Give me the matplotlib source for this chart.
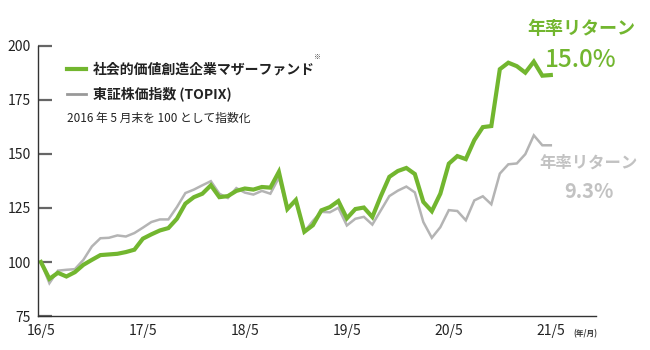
import numpy as np
import matplotlib.pyplot as plt
from matplotlib.lines import Line2D

plt.rcParams['font.family'] = ['Noto Sans CJK JP', 'DejaVu Sans']

# 月末基準価額（2016年5月末=100）、16/5〜21/5 の61か月
fund = [100, 92.2, 95, 93.3, 95.3, 98.7, 101, 103.2, 103.5, 103.8, 104.6, 105.7, 110.8,
        112.8, 114.6, 115.7, 120, 127, 130, 131.6, 135.5, 130, 130.5, 132.9, 134, 133.5,
        134.7, 134.4,
        141.7, 124.5, 128.7, 114, 117, 123.9, 125.4, 128.2,
        120.2, 124.5, 125.2, 120.8, 130.5, 139.4, 142.1, 143.5, 140.7, 127.8, 123.5, 131.6,
        145.5, 149, 147.6, 156.4, 162.4, 162.9, 189.2, 192.2, 190.6, 187.6, 192.7, 186.2, 186.5]
topix = [100, 90.2, 96, 96.4, 96.7, 101, 107.2, 111, 111.2, 112.3, 111.8, 113.4, 115.9,
         118.5, 119.7, 119.7, 125.4, 131.9, 133.5, 135.5, 137.4, 131.6, 129.6, 134.2, 132.1,
         131.2, 132.9, 131.6,
         139, 124.8, 128, 114, 119, 123.2, 123, 125.1,
         116.9, 120, 120.9, 117.3, 123.9, 130.5, 133, 134.9, 132.2, 118.5, 111.2, 116.1,
         124, 123.6, 119.3, 128.5, 130.4, 126.7, 140.9, 145.2, 145.6, 149.9, 158.6, 154, 154]
xlabels = ['16/5', '17/5', '18/5', '19/5', '20/5', '21/5']
yticks = [75, 100, 125, 150, 175, 200]
fund_name = '社会的価値創造企業マザーファンド'
topix_name = '東証株価指数 (TOPIX)'
fund_ret = '15.0%'
topix_ret = '9.3%'

green = '#72b62f'
gray = '#b4b4b4'

fig = plt.figure(figsize=(6.5, 3.5), dpi=100)
ax = fig.add_axes([0.0577, 0.097, 0.859, 0.772])

x = np.arange(len(fund))
ax.plot(x, topix, color=gray, lw=1.8, solid_joinstyle='miter')
ax.plot(x, fund, color=green, lw=3.0, solid_joinstyle='miter')

ax.set_xlim(-0.4, 65.3)
ax.set_ylim(75, 200)
ax.set_xticks(np.arange(0, 61, 12))
ax.set_xticklabels(xlabels)
ax.set_yticks(yticks)
ax.tick_params(axis='x', length=0, pad=6, labelsize=10, colors='#222222')
ax.tick_params(axis='y', direction='in', length=10, width=1.6, color='#666666',
               pad=5, labelsize=10, labelcolor='#222222')
for s in ['top', 'right']:
    ax.spines[s].set_visible(False)
for s in ['left', 'bottom']:
    ax.spines[s].set_color('#333333')
    ax.spines[s].set_linewidth(1.0)

# 凡例
handles = [Line2D([], [], color=green, lw=3), Line2D([], [], color='#999999', lw=2)]
leg = ax.legend(handles, [fund_name, topix_name], loc='upper left',
                bbox_to_anchor=(0.03, 0.985), frameon=False, handlelength=1.4,
                handletextpad=0.5, labelspacing=0.75,
                prop={'size': 10, 'weight': 'bold'})
for t in leg.get_texts():
    t.set_color('#222222')
fig.text(0.482, 0.832, '※', fontsize=5, color='#444444')
fig.text(0.103, 0.663, '2016 年 5 月末を 100 として指数化', fontsize=8.5,
         color='#222222', va='center')

fig.text(0.9, 0.0475, '(年/月)', fontsize=5.5, fontweight='bold', color='#333333',
         ha='center', va='center')

# 年率リターン
fig.text(0.894, 0.92, '年率リターン', fontsize=13, fontweight='bold', color=green,
         ha='center', va='center')
fig.text(0.894, 0.828, fund_ret, fontsize=17.5, fontweight='medium', color=green,
         ha='center', va='center')
fig.text(0.906, 0.534, '年率リターン', fontsize=11.8, fontweight='bold', color='#c2c2c2',
         ha='center', va='center')
fig.text(0.906, 0.452, topix_ret, fontsize=14.5, fontweight='bold', color='#c2c2c2',
         ha='center', va='center')

fig.savefig('out.png', dpi=100)
